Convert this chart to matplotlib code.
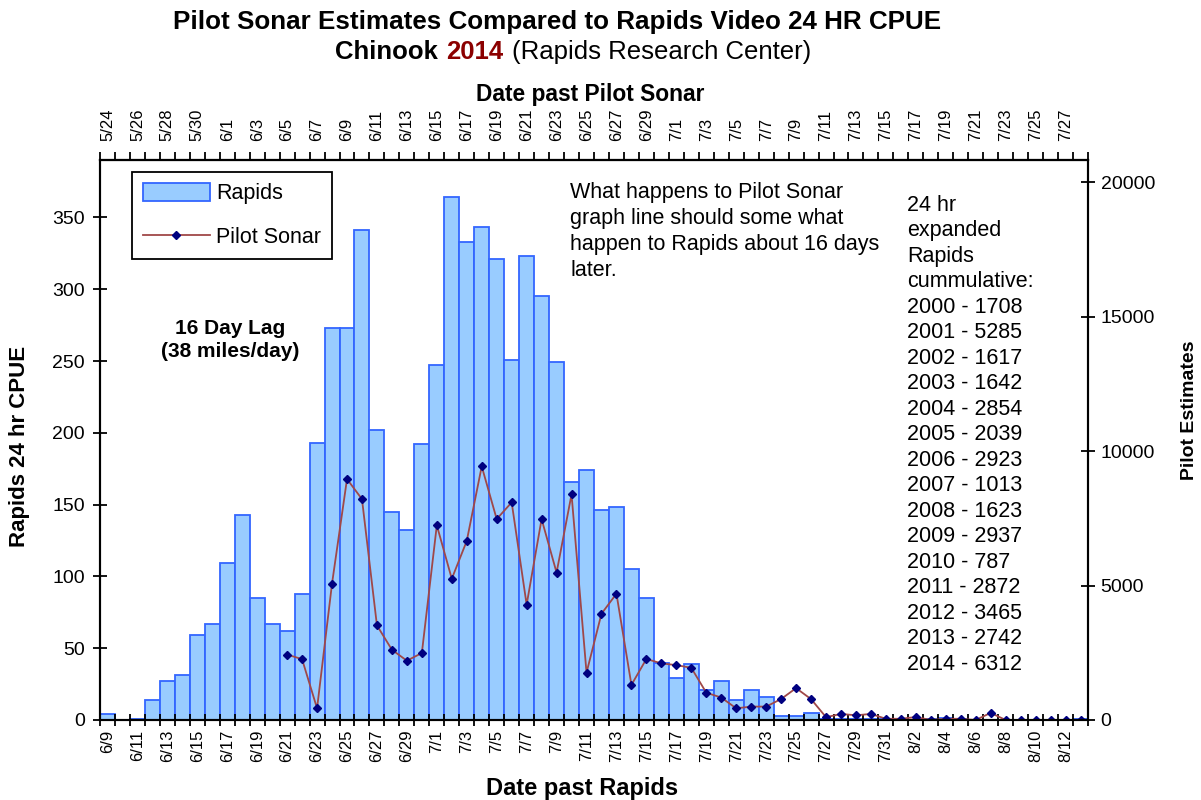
import numpy as np
import pandas as pd
import matplotlib
matplotlib.use("Agg")
import matplotlib.pyplot as plt
from matplotlib.lines import Line2D
from matplotlib.patches import Patch
from matplotlib.offsetbox import TextArea, HPacker, AnchoredOffsetbox

plt.rcParams['font.family'] = ['Liberation Sans', 'DejaVu Sans']

# dates past Rapids (bars) and past Pilot Sonar (16 days earlier)
rapids_dates = pd.date_range('2014-06-09', '2014-08-13')
sonar_dates = pd.date_range('2014-05-24', '2014-07-28')
rapids_labels = [f"{d.month}/{d.day}" for d in rapids_dates]
sonar_labels = [f"{d.month}/{d.day}" for d in sonar_dates]

# Rapids 24 hr CPUE, 6/9 .. 8/13
rapids = [4, 0, 1, 14, 27, 31, 59, 67, 109, 143,
          85, 67, 62, 88, 193, 273, 273, 341, 202, 145,
          132, 192, 247, 364, 333, 343, 321, 251, 323, 295,
          249, 166, 174, 146, 148, 105, 85, 40, 29, 39,
          21, 27, 14, 21, 16, 3, 3, 5, 1, 1,
          0.5, 1, 0.5, 0, 0, 0.5, 1.5, 0.5, 0, 0,
          0, 0, 0, 0, 0, 0.5]

# Pilot Sonar estimates, plotted from 6/21 (Rapids date) to 8/13
sonar_start = 12
sonar = [2435, 2260, 433, 5074, 8957, 8213, 3518, 2611, 2205, 2490,
         7239, 5250, 6657, 9430, 7469, 8091, 4289, 7469, 5480, 8389,
         1759, 3951, 4695, 1305, 2270, 2105, 2040, 1940, 1015, 835,
         434, 498, 498, 780, 1185, 776, 105, 225, 175, 225,
         45, 45, 110, 0, 45, 45, 0, 265, 0, 0,
         0, 0, 0, 0]

cumulative_years = ['2000', '2001', '2002', '2003', '2004', '2005', '2006', '2007',
                    '2008', '2009', '2010', '2011', '2012', '2013', '2014']
cumulative_vals = [1708, 5285, 1617, 1642, 2854, 2039, 2923, 1013,
                   1623, 2937, 787, 2872, 3465, 2742, 6312]

x = np.arange(len(rapids))
xs = x[sonar_start:]

fig = plt.figure(figsize=(12.01, 8), dpi=100)
ax = fig.add_axes([100/1201, 80/800, 988/1201, 560/800])

ax.bar(x, rapids, width=1, color='#99CCFF', edgecolor='#3366FF', linewidth=1.3)
ax.set_xlim(-0.5, len(x) - 0.5)
ax.set_ylim(0, 390)
ax.set_yticks(range(0, 351, 50))

ax2 = ax.twinx()
ax2.plot(xs, sonar, color='#A04848', lw=1.3, marker='D', ms=4.5,
         mfc='#000080', mec='#000080')
ax2.set_ylim(0, 20820)
ax2.set_yticks(range(0, 20001, 5000))

for a in (ax, ax2):
    for s in a.spines.values():
        s.set_linewidth(1.5)
ax.tick_params(axis='y', direction='inout', length=10, width=1.3, labelsize=14, pad=6)
ax2.tick_params(axis='y', direction='inout', length=10, width=1.3, labelsize=14, pad=4)

# bottom axis: tick marks between days, labels every other day
bounds = np.arange(-0.5, len(x), 1)
ax.set_xticks(bounds)
ax.set_xticklabels([])
ax.set_xticks(x[::2], labels=rapids_labels[::2], minor=True, rotation=90)
ax.tick_params(axis='x', which='major', direction='inout', length=9, width=1.3)
ax.tick_params(axis='x', which='minor', length=0, labelsize=12, pad=7)

top = ax.secondary_xaxis('top')
top.set_xticks(bounds)
top.set_xticklabels([])
top.set_xticks(x[::2], labels=sonar_labels[::2], minor=True, rotation=90)
top.tick_params(axis='x', which='major', direction='out', length=6, width=1.3)
top.tick_params(axis='x', which='minor', length=0, labelsize=12, pad=14)
top.spines['top'].set_linewidth(1.5)

handles = [Patch(facecolor='#99CCFF', edgecolor='#3366FF', linewidth=1.3),
           Line2D([], [], color='#A04848', lw=1.3, marker='D', ms=4.5,
                  mfc='#000080', mec='#000080')]
leg = ax2.legend(handles, ['Rapids', 'Pilot Sonar'], loc='upper left',
                 bbox_to_anchor=(132/1201, 1 - 172/800), bbox_transform=fig.transFigure,
                 fancybox=False, edgecolor='black', framealpha=1, fontsize=15.5,
                 handlelength=3.1, handleheight=0.9, borderpad=0.5, labelspacing=1.05,
                 handletextpad=0.3, borderaxespad=0)
leg.get_frame().set_linewidth(1.3)

# titles
fig.text(557/1201, 1 - 22/800, 'Pilot Sonar Estimates Compared to Rapids Video 24 HR CPUE',
         ha='center', va='center', fontsize=18.7, fontweight='bold')
parts = [TextArea('Chinook', textprops=dict(fontsize=18.5, fontweight='bold')),
         TextArea('2014', textprops=dict(fontsize=18.5, fontweight='bold', color='#8B0000')),
         TextArea('(Rapids Research Center)', textprops=dict(fontsize=18.5))]
box = HPacker(children=parts, align='baseline', pad=0, sep=6)
anch = AnchoredOffsetbox(loc='center', child=box, frameon=False, pad=0, borderpad=0,
                         bbox_to_anchor=(573/1201, 1 - 52/800), bbox_transform=fig.transFigure)
fig.add_artist(anch)

fig.text(590/1201, 1 - 95/800, 'Date past Pilot Sonar', ha='center', va='center',
         fontsize=16.4, fontweight='bold')
fig.text(582/1201, 1 - 789/800, 'Date past Rapids', ha='center', va='center',
         fontsize=17, fontweight='bold')
fig.text(20/1201, 1 - 446/800, 'Rapids 24 hr CPUE', ha='center', va='center',
         rotation=90, fontsize=16, fontweight='bold')
fig.text(1189/1201, 1 - 410/800, 'Pilot Estimates', ha='center', va='center',
         rotation=90, fontsize=14, fontweight='bold')

# notes
fig.text(230/1201, 1 - 340/800, '16 Day Lag\n(38 miles/day)', ha='center', va='center',
         fontsize=15, fontweight='bold', linespacing=1.3)
fig.text(570/1201, 1 - 182/800,
         'What happens to Pilot Sonar\ngraph line should some what\nhappen to Rapids about 16 days\nlater.',
         ha='left', va='top', fontsize=15.5, linespacing=1.32)
cum_lines = ['24 hr', 'expanded', 'Rapids', 'cummulative:'] + \
    [f'{yr} - {v}' for yr, v in zip(cumulative_years, cumulative_vals)]
fig.text(907/1201, 1 - 195/800, '\n'.join(cum_lines), ha='left', va='top',
         fontsize=15.5, linespacing=1.28)

fig.savefig('out.png', dpi=100)
